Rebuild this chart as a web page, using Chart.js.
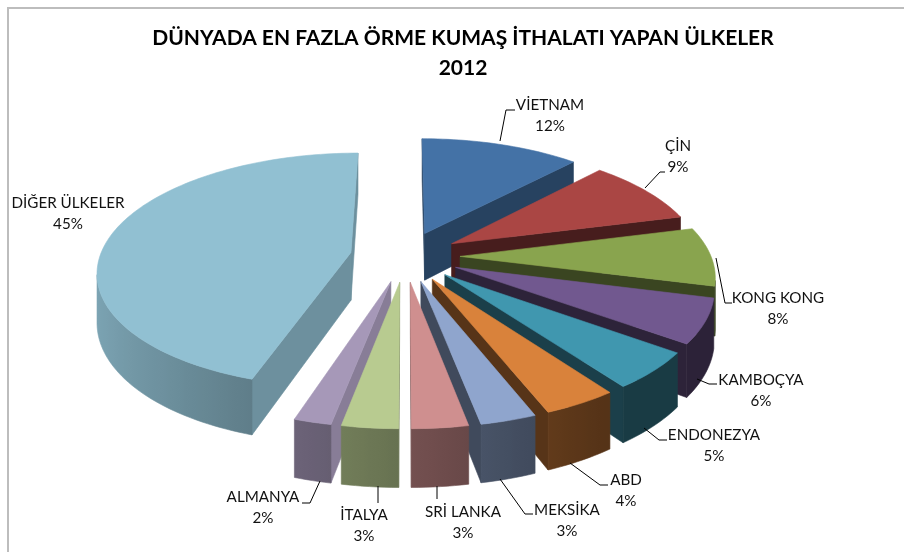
<!DOCTYPE html>
<html lang="tr">
<head>
<meta charset="utf-8">
<title>Dünyada en fazla örme kumaş ithalatı yapan ülkeler</title>
<script src="https://cdn.jsdelivr.net/npm/chart.js@4/dist/chart.umd.min.js"></script>
<style>
    html, body { margin: 0; padding: 0; background: #fff; }
    #wrap { position: relative; width: 904px; height: 552px; }
</style>
</head>
<body>
<div id="wrap"><canvas id="pie"></canvas></div>
<script>
'use strict';

// =========================================================
// DATA
// =========================================================

const countries = ['VİETNAM', 'ÇİN', 'KONG KONG', 'KAMBOÇYA', 'ENDONEZYA', 'ABD', 'MEKSİKA', 'SRİ LANKA', 'İTALYA', 'ALMANYA', 'DİĞER ÜLKELER'];
const shares = [12, 9, 8, 6, 5, 4, 3, 3, 3, 2, 45];
const titleLines = ['DÜNYADA EN FAZLA ÖRME KUMAŞ İTHALATI YAPAN ÜLKELER', '2012'];


// =========================================================
// STYLE
// =========================================================

const sliceColors = ['#4472a6', '#aa4644', '#89a44e', '#71588f', '#4097af', '#d9823b', '#8fa5cd', '#cf8f8f', '#b8cb90', '#a698b8', '#91c0d2'];

// how dark the cut faces of each slice are, picked by eye
const cutShades = [0.58, 0.42, 0.42, 0.4, 0.42, 0.4, 0.45, 0.55, 0.6, 0.82, 0.75];

const EXPLODE = 55;
const PIE_RADIUS = 251;
const PIE_DEPTH = 48;
const TILT = 0.46;
const PERSPECTIVE = 0.0006;

// the title centres on the chart area, the pie sits left of that
const PIE_SHIFT_X = -58;

// label centres and leader lines, in page pixels
const labelSpots = [
    [550, 105], [678, 146], [778, 298], [761, 380], [714, 435], [626, 480], [567, 510], [463, 512], [364, 515], [263, 497], [68, 203],
];
const leaders = [
    [[500, 141], [506, 110], [515, 110]],
    [[645, 188], [660, 172], [665, 172]],
    [[716, 258], [725, 303], [732, 303]],
    [[697, 379], [709, 384], [717, 384]],
    [[644, 428], [659, 440], [667, 440]],
    [[570, 463], [600, 485], [608, 485]],
    [[500, 479], [525, 514], [533, 514]],
    [[437, 486], [437, 499]],
    [[378, 486], [378, 503]],
    [[320, 481], [310, 503], [302, 503]],
    [],
];


// =========================================================
// 3D HELPERS
// =========================================================

const shadeColor = (hex, factor) => {
    const channels = [1, 3, 5].map((start) => parseInt(hex.slice(start, start + 2), 16));
    return `rgb(${channels.map((value) => Math.round(value * factor)).join(',')})`;
};

const wallShade = (angle) => Math.max(0.39, 0.56 - 0.3 * Math.cos(angle));

const fillFace = (ctx, points, color) => {
    ctx.beginPath();
    points.forEach((point, index) => {
        if (index === 0) ctx.moveTo(point[0], point[1]);
        else ctx.lineTo(point[0], point[1]);
    });
    ctx.closePath();
    ctx.fillStyle = color;
    ctx.strokeStyle = color;
    ctx.lineWidth = 0.6;
    ctx.fill();
    ctx.stroke();
};

// positive when the outline runs clockwise on screen, so the face looks at us
const facesViewer = (points) => {
    let area = 0;
    points.forEach((point, index) => {
        const next = points[(index + 1) % points.length];
        area += point[0] * next[1] - next[0] * point[1];
    });
    return area > 0;
};

const drawSlice = (ctx, arc, color, cutShade) => {
    const { x, y, startAngle, endAngle, outerRadius } = arc.getProps(['x', 'y', 'startAngle', 'endAngle', 'outerRadius']);
    const mid = (startAngle + endAngle) / 2;
    const offset = arc.options.offset;

    const project = (angle, radius, height) => {
        const planX = Math.cos(mid) * offset + Math.cos(angle) * radius;
        const planY = Math.sin(mid) * offset + Math.sin(angle) * radius;
        const scale = 1 / (1 - planY * PERSPECTIVE);
        return [x + PIE_SHIFT_X + planX * scale, y + (planY * TILT - height) * scale];
    };

    const steps = Math.max(6, Math.ceil((endAngle - startAngle) * 40));
    const rim = [];
    for (let step = 0; step <= steps; step++) {
        rim.push(startAngle + (endAngle - startAngle) * step / steps);
    }

    // cut faces
    const apexTop = project(mid, 0, 0);
    const apexBottom = project(mid, 0, -PIE_DEPTH);
    const cutColor = shadeColor(color, cutShade);

    const startCut = [apexTop, apexBottom, project(startAngle, outerRadius, -PIE_DEPTH), project(startAngle, outerRadius, 0)];
    const endCut = [apexTop, project(endAngle, outerRadius, 0), project(endAngle, outerRadius, -PIE_DEPTH), apexBottom];
    if (facesViewer(startCut)) fillFace(ctx, startCut, cutColor);
    if (facesViewer(endCut)) fillFace(ctx, endCut, cutColor);

    // outer wall: only the part looking at us, one gradient from side to side
    const seen = rim.filter((angle, step) => {
        const next = rim[Math.min(step + 1, steps)];
        const prev = rim[Math.max(step - 1, 0)];
        const face = [project(next, outerRadius, 0), project(prev, outerRadius, 0), project(prev, outerRadius, -PIE_DEPTH), project(next, outerRadius, -PIE_DEPTH)];
        return facesViewer(face);
    });

    if (seen.length > 1) {
        const top = seen.map((angle) => project(angle, outerRadius, 0));
        const bottom = seen.map((angle) => project(angle, outerRadius, -PIE_DEPTH)).reverse();
        const xs = top.map((point) => point[0]);
        const minX = Math.min(...xs);
        const maxX = Math.max(...xs);
        const gradient = ctx.createLinearGradient(minX, 0, maxX, 0);
        seen.forEach((angle, index) => {
            gradient.addColorStop((xs[index] - minX) / (maxX - minX), shadeColor(color, wallShade(angle)));
        });
        fillFace(ctx, [...top, ...bottom], gradient);
    }

    // top face
    fillFace(ctx, [apexTop, ...rim.map((angle) => project(angle, outerRadius, 0))], color);
};


// =========================================================
// PLUGINS
// =========================================================

const framePlugin = {
    id: 'frame',
    beforeDraw(chart) {
        const { ctx, width, height } = chart;
        ctx.save();
        ctx.strokeStyle = '#bdbdbd';
        ctx.lineWidth = 2;
        ctx.beginPath();
        ctx.moveTo(8, height);
        ctx.lineTo(8, 8);
        ctx.lineTo(width, 8);
        ctx.stroke();
        ctx.restore();
    },
};

const pie3dPlugin = {
    id: 'pie3d',
    // the arcs keep their geometry from the pie controller, only the drawing is replaced
    beforeDatasetsDraw(chart) {
        const { ctx } = chart;
        const arcs = chart.getDatasetMeta(0).data;
        const order = arcs.map((arc, index) => index).sort((a, b) => {
            const midA = (arcs[a].startAngle + arcs[a].endAngle) / 2;
            const midB = (arcs[b].startAngle + arcs[b].endAngle) / 2;
            return Math.sin(midA) - Math.sin(midB);
        });

        ctx.save();
        order.forEach((index) => {
            drawSlice(ctx, arcs[index], sliceColors[index], cutShades[index]);
        });
        ctx.restore();
        return false;
    },
    afterDraw(chart) {
        const { ctx } = chart;
        ctx.save();

        ctx.strokeStyle = '#000';
        ctx.lineWidth = 1;
        leaders.forEach((line) => {
            if (line.length === 0) return;
            ctx.beginPath();
            line.forEach((point, index) => {
                if (index === 0) ctx.moveTo(point[0], point[1]);
                else ctx.lineTo(point[0], point[1]);
            });
            ctx.stroke();
        });

        ctx.fillStyle = '#111';
        ctx.font = '15.2px Lato, "Open Sans", sans-serif';
        ctx.textAlign = 'center';
        ctx.textBaseline = 'middle';
        countries.forEach((name, index) => {
            const [labelX, labelY] = labelSpots[index];
            ctx.fillText(name, labelX, labelY);
            ctx.fillText(`${shares[index]}%`, labelX, labelY + 21.5);
        });

        ctx.restore();
    },
};


// =========================================================
// CHART
// =========================================================

const init = () => {
    const canvas = document.querySelector('#pie');

    new Chart(canvas, {
        type: 'pie',
        data: {
            labels: countries,
            datasets: [{
                data: shares,
                backgroundColor: sliceColors,
                radius: PIE_RADIUS,
                offset: EXPLODE,
                borderWidth: 0,
            }],
        },
        options: {
            responsive: false,
            animation: false,
            layout: {
                padding: { left: 22, right: 0, top: 0, bottom: 130 },
            },
            plugins: {
                legend: { display: false },
                tooltip: { enabled: false },
                title: {
                    display: true,
                    text: titleLines,
                    color: '#000',
                    font: { family: 'Lato, "Open Sans", sans-serif', size: 21, weight: 'bold', lineHeight: 1.4 },
                    padding: { top: 24, bottom: 8 },
                },
            },
        },
        plugins: [framePlugin, pie3dPlugin],
    });
};

const canvas = document.querySelector('#pie');
canvas.width = 904;
canvas.height = 552;
init();
</script>
</body>
</html>
